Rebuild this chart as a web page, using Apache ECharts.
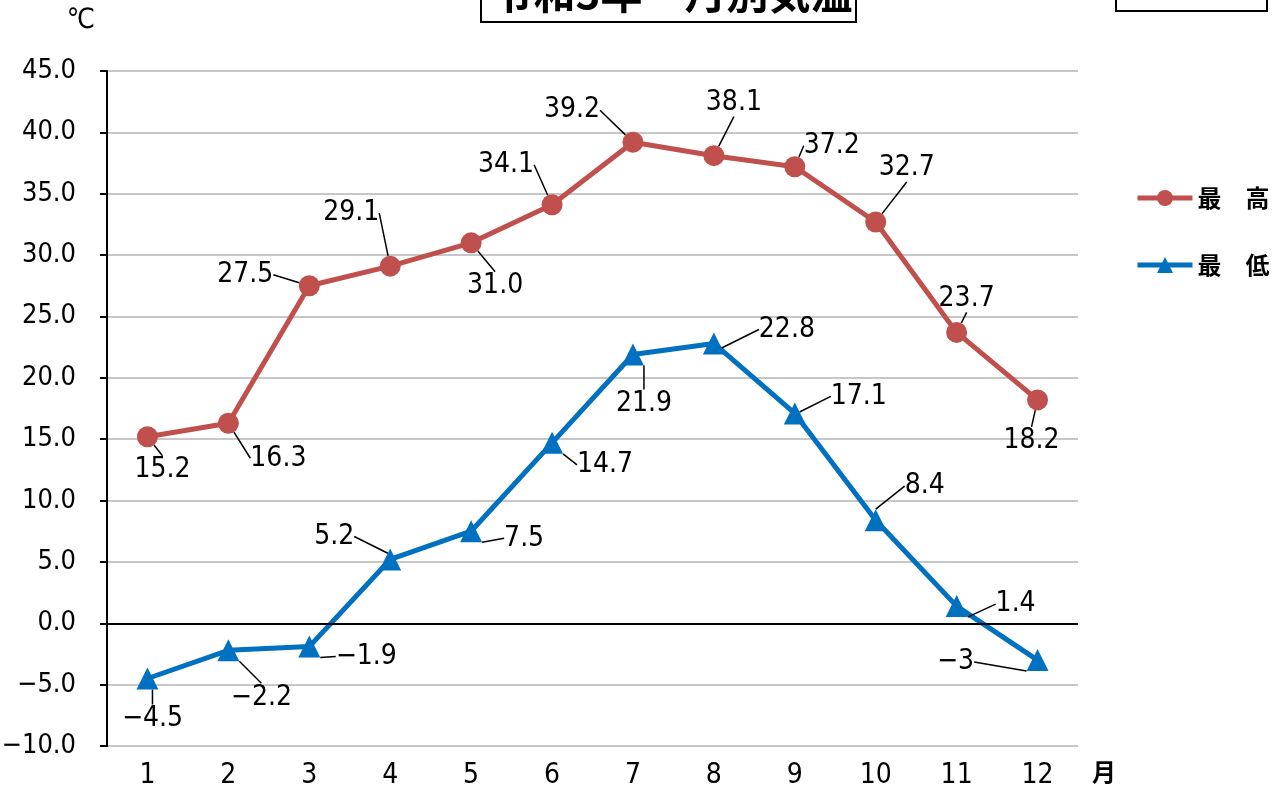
<!DOCTYPE html>
<html>
<head>
<meta charset="utf-8">
<script src="https://cdn.jsdelivr.net/npm/echarts@6/dist/echarts.min.js"></script>
<style>
  html, body { margin: 0; padding: 0; background: #fff; }
  #chart1 { width: 1287px; height: 789px; }
</style>
</head>
<body>
<div id="chart1"></div>
<script>
var months = ['1', '2', '3', '4', '5', '6', '7', '8', '9', '10', '11', '12'];
var maxTemp = [15.2, 16.3, 27.5, 29.1, 31.0, 34.1, 39.2, 38.1, 37.2, 32.7, 23.7, 18.2];
var minTemp = [-4.5, -2.2, -1.9, 5.2, 7.5, 14.7, 21.9, 22.8, 17.1, 8.4, 1.4, -3];
var minTempText = ['-4.5', '-2.2', '-1.9', '5.2', '7.5', '14.7', '21.9', '22.8', '17.1', '8.4', '1.4', '-3'];

// ラベルの位置（点からのずれ）
var maxOffset = [[15, 33], [50, 35], [-64, -11], [-39, -53], [24, 43], [-46, -40],
                 [-61, -32], [20, -53], [37, -21], [31, -54], [10, -34], [-6, 41]];
var minOffset = [[5, 40], [33, 47], [57, 10], [-56, -23], [53, 7], [53, 22],
                 [11, 49], [73, -14], [64, -17], [49, -34], [59, -2], [-82, 2]];

var numFont = "'DejaVu Sans Condensed', 'Liberation Sans Narrow', sans-serif";
var cjkFont = "'Noto Sans CJK JP', sans-serif";

function minus(s) { return String(s).replace('-', '\u2212'); }

var myChart = echarts.init(document.getElementById('chart1'));

myChart.setOption({
    animation: false,
    grid: { left: 107, right: 209, top: 71, bottom: 43, containLabel: false, outerBoundsMode: 'none' },
    graphic: [
        { type: 'rect', shape: { x: 481, y: -30, width: 375, height: 52 },
          style: { fill: '#fff', stroke: '#000', lineWidth: 2 } },
        { type: 'text', x: 672, y: -7,
          style: { text: '令和3年　月別気温', font: 'bold 42px ' + cjkFont, fill: '#000',
                   align: 'center', verticalAlign: 'middle' } },
        { type: 'rect', shape: { x: 1116, y: -20, width: 151, height: 31 },
          style: { fill: '#fff', stroke: '#000', lineWidth: 2 } },
        { type: 'text', x: 81, y: 21,
          style: { text: '℃', font: '28px ' + numFont, fill: '#000', align: 'center', verticalAlign: 'middle' } },
        { type: 'text', x: 1104, y: 772,
          style: { text: '月', font: 'bold 24px ' + cjkFont, fill: '#000', align: 'center', verticalAlign: 'middle' } }
    ],
    legend: {
        orient: 'vertical',
        left: 1130,
        top: 181,
        itemGap: 43,
        itemWidth: 55,
        itemHeight: 20,
        lineStyle: { width: 5 },
        textStyle: { fontFamily: cjkFont, fontSize: 24, color: '#000', fontWeight: 'bold' },
        data: ['最　高', '最　低']
    },
    xAxis: {
        type: 'category',
        data: months,
        boundaryGap: true,
        axisLine: { show: false },
        axisTick: { show: false },
        axisLabel: { color: '#000', fontSize: 28, fontFamily: numFont, margin: 16 },
        splitLine: { show: false }
    },
    yAxis: {
        type: 'value',
        min: -10,
        max: 45,
        interval: 5,
        axisLine: { show: true, lineStyle: { color: '#000', width: 2 } },
        axisTick: { show: true, length: 7, lineStyle: { color: '#000', width: 2 } },
        axisLabel: {
            color: '#000', fontSize: 27, fontFamily: numFont, margin: 31,
            formatter: function (v) { return minus(v.toFixed(1)); }
        },
        splitLine: { show: true, lineStyle: { color: '#b4b4b4', width: 1.5 } }
    },
    series: [
        {
            name: '最　高',
            type: 'line',
            data: maxTemp,
            symbol: 'circle',
            symbolSize: 21,
            color: '#C0504D',
            lineStyle: { width: 5, color: '#C0504D' },
            z: 3,
            label: {
                show: true,
                color: '#000', fontSize: 28, fontFamily: numFont,
                position: 'inside',
                formatter: function (p) { return p.value.toFixed(1); }
            },
            labelLine: { show: true, lineStyle: { color: '#000', width: 1.5 } },
            labelLayout: function (p) {
                var o = maxOffset[p.dataIndex];
                return { dx: o[0], dy: o[1] };
            },
            markLine: {
                silent: true,
                symbol: 'none',
                label: { show: false },
                lineStyle: { color: '#000', width: 2, type: 'solid' },
                data: [{ yAxis: 0 }]
            }
        },
        {
            name: '最　低',
            type: 'line',
            data: minTemp,
            symbol: 'triangle',
            symbolSize: 22,
            color: '#0070C0',
            lineStyle: { width: 5, color: '#0070C0' },
            z: 3,
            label: {
                show: true,
                color: '#000', fontSize: 28, fontFamily: numFont,
                position: 'inside',
                formatter: function (p) { return minus(minTempText[p.dataIndex]); }
            },
            labelLine: { show: true, lineStyle: { color: '#000', width: 1.5 } },
            labelLayout: function (p) {
                var o = minOffset[p.dataIndex];
                return { dx: o[0], dy: o[1] };
            }
        }
    ]
});
</script>
</body>
</html>
